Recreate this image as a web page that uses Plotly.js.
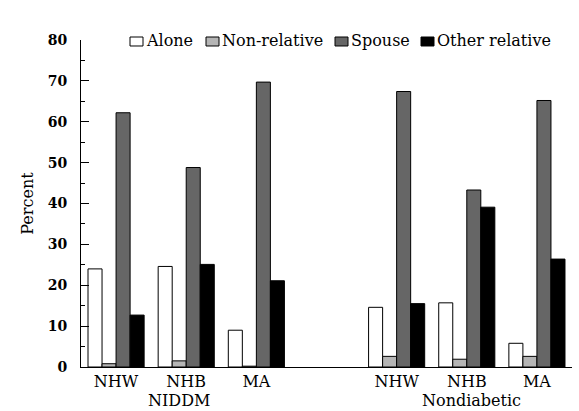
<!DOCTYPE html>
<html>
<head>
<meta charset="utf-8">
<script src="https://cdn.plot.ly/plotly-3.0.1.min.js"></script>
<style>
  html, body { margin: 0; padding: 0; background: #fff; }
  #chart { width: 579px; height: 411px; }
</style>
</head>
<body>
<div id="chart"></div>
<script>
// Living arrangement by ethnic group, people with NIDDM vs nondiabetic
const groupPositions = [0, 1, 2, 4, 5, 6];
const groupLabels = ["NHW", "NHB", "MA", "NHW", "NHB", "MA"];
const panelLabels = ["NIDDM", "Nondiabetic"];

const seriesNames = ["Alone", "Non-relative", "Spouse", "Other relative"];
const alone       = [24.0, 24.6, 9.0, 14.6, 15.7, 5.8];
const nonRelative = [0.8, 1.5, 0.2, 2.6, 1.9, 2.6];
const spouse      = [62.2, 48.8, 69.7, 67.4, 43.3, 65.2];
const otherRel    = [12.7, 25.1, 21.1, 15.5, 39.1, 26.4];

const fills = ["#ffffff", "#b5b5b5", "#666666", "#000000"];
const serif = "DejaVu Serif, Liberation Serif, serif";

// plot area geometry in pixels
const W = 579, H = 411;
const M = { l: 81, r: 7, t: 40, b: 43.5 };
const plotW = W - M.l - M.r, plotH = H - M.t - M.b;
const px2paperX = px => (px - M.l) / plotW;
const px2paperY = py => (H - M.b - py) / plotH;

const seriesValues = [alone, nonRelative, spouse, otherRel];
const traces = seriesValues.map((vals, i) => ({
  type: "bar",
  name: seriesNames[i],
  x: groupPositions,
  y: vals,
  marker: { color: fills[i], line: { color: "#000", width: 1 } },
  hoverinfo: "name+y",
  showlegend: false
}));

// compact key row along the top: swatch immediately followed by its label
const keyLeft = [130, 206, 335, 421];
const keyShapes = seriesNames.map((_, i) => ({
  type: "rect", xref: "paper", yref: "paper",
  x0: px2paperX(keyLeft[i]), x1: px2paperX(keyLeft[i] + 13),
  y0: px2paperY(46), y1: px2paperY(37),
  fillcolor: fills[i], line: { color: "#000", width: 1 }
}));
const keyLabels = seriesNames.map((name, i) => ({
  text: name, xref: "paper", yref: "paper",
  x: px2paperX(keyLeft[i] + 14), y: px2paperY(40.5),
  xanchor: "left", yanchor: "middle", showarrow: false,
  font: { family: serif, size: 16, color: "#000" }
}));

const panelAnnotations = [
  { text: panelLabels[0], x: 0.9, y: 0, xref: "x", yref: "paper", yanchor: "middle", yshift: -33.5,
    showarrow: false, borderpad: 0, font: { family: serif, size: 16, color: "#000" } },
  { text: panelLabels[1], x: 5.07, y: 0, xref: "x", yref: "paper", yanchor: "middle", yshift: -33.5,
    showarrow: false, borderpad: 0, font: { family: serif, size: 16, color: "#000" } }
];

const layout = {
  width: W,
  height: H,
  margin: M,
  paper_bgcolor: "#fff",
  plot_bgcolor: "#fff",
  barmode: "group",
  bargap: 0.2,
  bargroupgap: 0,
  showlegend: false,
  xaxis: {
    range: [-0.5, 6.5],
    tickmode: "array",
    tickvals: groupPositions,
    ticktext: groupLabels,
    ticks: "",
    showgrid: false,
    zeroline: false,
    showline: true,
    linecolor: "#000",
    linewidth: 1,
    ticklabelstandoff: 0,
    tickfont: { family: serif, size: 16, color: "#000" },
    fixedrange: true
  },
  yaxis: {
    range: [0, 80],
    tickmode: "linear",
    tick0: 0,
    dtick: 10,
    ticks: "inside",
    ticklen: 8,
    tickwidth: 1,
    tickcolor: "#000",
    minor: { dtick: 5, ticks: "inside", ticklen: 4, tickcolor: "#000", tickwidth: 1 },
    showgrid: false,
    zeroline: false,
    showline: true,
    linecolor: "#000",
    linewidth: 1,
    ticklabelstandoff: 10,
    tickfont: { family: serif, size: 14, color: "#000", weight: "bold" },
    title: { text: "Percent", font: { family: serif, size: 16, color: "#000" }, standoff: 10 },
    fixedrange: true
  },
  shapes: keyShapes,
  annotations: keyLabels.concat(panelAnnotations)
};

Plotly.newPlot("chart", traces, layout, { displayModeBar: false, staticPlot: true });
</script>
</body>
</html>
